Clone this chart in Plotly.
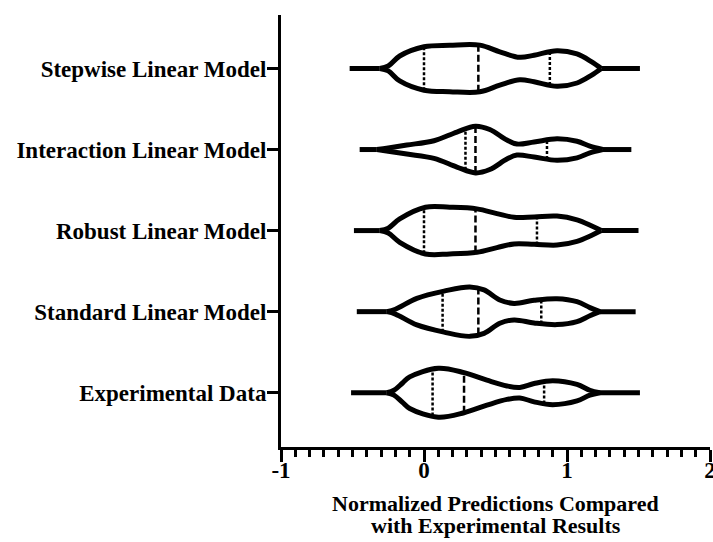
import numpy as np
import plotly.graph_objects as go

# Category labels, bottom to top
categories = [
    "Experimental Data",
    "Standard Linear Model",
    "Robust Linear Model",
    "Interaction Linear Model",
    "Stepwise Linear Model",
]

# Full data range of each group (thin tails of the violins)
data_min = [-0.51, -0.47, -0.49, -0.45, -0.52]
data_max = [1.51, 1.48, 1.50, 1.45, 1.51]

# Quartiles: first quartile, median, third quartile
q1 = [0.06, 0.13, 0.00, 0.29, 0.00]
median = [0.28, 0.38, 0.36, 0.36, 0.38]
q3 = [0.84, 0.82, 0.79, 0.86, 0.88]

# Density outline of each violin: positions along x and half-widths (category units)
exp_x = [-0.26, -0.21, -0.15, -0.10, 0.10, 0.28, 0.44, 0.58, 0.67, 0.77, 0.90, 1.07, 1.16, 1.23]
exp_w = [0.0, 0.03, 0.12, 0.195, 0.302, 0.247, 0.154, 0.083, 0.065, 0.113, 0.148, 0.102, 0.03, 0.0]

std_x = [-0.26, -0.20, -0.05, 0.14, 0.32, 0.42, 0.53, 0.63, 0.77, 0.93, 1.07, 1.16, 1.23]
std_w = [0.0, 0.03, 0.164, 0.253, 0.305, 0.268, 0.144, 0.102, 0.14, 0.16, 0.123, 0.05, 0.0]

rob_x = [-0.31, -0.25, -0.17, 0.01, 0.18, 0.37, 0.51, 0.63, 0.77, 0.93, 1.07, 1.17, 1.24]
rob_w = [0.0, 0.03, 0.144, 0.288, 0.288, 0.268, 0.21, 0.164, 0.169, 0.179, 0.133, 0.06, 0.0]

int_x = [-0.33, -0.25, -0.12, 0.07, 0.23, 0.36, 0.46, 0.58, 0.65, 0.77, 0.93, 1.07, 1.16, 1.25]
int_w = [0.0, 0.02, 0.056, 0.109, 0.216, 0.288, 0.247, 0.117, 0.068, 0.093, 0.133, 0.102, 0.041, 0.0]

stp_x = [-0.31, -0.25, -0.17, 0.0, 0.18, 0.39, 0.53, 0.67, 0.77, 0.93, 1.07, 1.17, 1.24]
stp_w = [0.0, 0.03, 0.154, 0.268, 0.286, 0.288, 0.206, 0.138, 0.164, 0.22, 0.179, 0.085, 0.0]

outline_x = [exp_x, std_x, rob_x, int_x, stp_x]
outline_w = [exp_w, std_w, rob_w, int_w, stp_w]

x_ticks = [-1, 0, 1, 2]
x_title_lines = ["Normalized Predictions Compared", "with Experimental Results"]

FONT = "Liberation Serif, Times New Roman, serif"
INK = "black"

fig = go.Figure()

for i in range(len(categories)):
    xs = outline_x[i]
    hw = outline_w[i]
    for sign in (1, -1):
        fig.add_trace(go.Scatter(
            x=xs, y=[i + sign * w for w in hw], mode="lines",
            line=dict(color=INK, width=5, shape="spline", smoothing=1.0),
            hoverinfo="skip", showlegend=False,
        ))
    # tails out to the min / max values
    fig.add_trace(go.Scatter(
        x=[data_min[i], xs[0], None, xs[-1], data_max[i]],
        y=[i, i, None, i, i], mode="lines",
        line=dict(color=INK, width=5),
        hoverinfo="skip", showlegend=False,
    ))
    # quartile (dotted) and median (dashed) lines
    for q, dash in ((q1[i], "3px,2px"), (median[i], "7px,3px"), (q3[i], "3px,2px")):
        h = float(np.interp(q, xs, hw))
        fig.add_trace(go.Scatter(
            x=[q, q], y=[i - h, i + h], mode="lines",
            line=dict(color=INK, width=2.5, dash=dash),
            hoverinfo="skip", showlegend=False,
        ))

fig.update_layout(
    width=713, height=542,
    margin=dict(l=281, r=3, t=15, b=95),
    plot_bgcolor="white", paper_bgcolor="white",
    showlegend=False,
)

fig.update_xaxes(
    range=[-1, 2], tickvals=x_ticks, ticktext=[str(v) for v in x_ticks],
    showline=True, linecolor=INK, linewidth=3,
    ticks="outside", ticklen=12, tickwidth=3, tickcolor=INK,
    minor=dict(dtick=0.1, tick0=0, ticks="outside", ticklen=7, tickwidth=2.5, tickcolor=INK),
    showgrid=False, zeroline=False, automargin=False,
    ticklabeloverflow="allow", ticklabelstandoff=-12,
    tickfont=dict(family=FONT, size=23, color=INK, weight="bold"),
)

fig.update_yaxes(
    range=[-0.67, 4.66], tickvals=list(range(len(categories))), ticktext=categories,
    showline=True, linecolor=INK, linewidth=3,
    ticks="outside", ticklen=11, tickwidth=3, tickcolor=INK,
    showgrid=False, zeroline=False, automargin=False,
    ticklabelstandoff=-4,
    tickfont=dict(family=FONT, size=23, color=INK, weight="bold"),
)

for k, line in enumerate(x_title_lines):
    fig.add_annotation(
        text=line, xref="paper", yref="paper", x=0.5, y=0,
        xanchor="center", yanchor="middle", yshift=-56 - 22 * k,
        showarrow=False,
        font=dict(family=FONT, size=22, color=INK, weight="bold"),
    )

fig.write_html("out.html")
